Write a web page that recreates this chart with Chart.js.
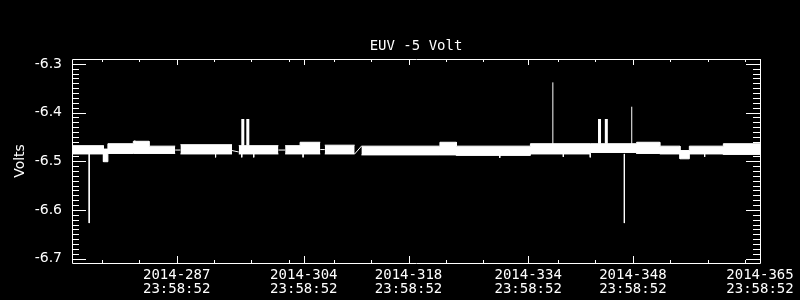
<!DOCTYPE html>
<html>
<head>
<meta charset="utf-8">
<script src="https://cdn.jsdelivr.net/npm/chart.js@4.4.1/dist/chart.umd.min.js"></script>
<style>
  html, body { margin: 0; padding: 0; background: #000; }
  canvas { display: block; }
</style>
</head>
<body>
<canvas id="euv" width="800" height="300"></canvas>
<script>
// Axis ticks (day of year 2014, each label is 23:58:52 of that day)
const xMajorDays = [287, 304, 318, 334, 348, 365];
const xMinorDays = [277, 282, 292, 297, 302, 308, 313, 323, 328, 338, 343, 353, 358, 363];
const xTimeLabel = '23:58:52';
const yTicks = [-6.7, -6.6, -6.5, -6.4, -6.3];

// Main band: blocks of the trace, top and bottom edge of each
const bandStart = [273.0, 277.2, 277.8, 281.2, 283.3, 287.5, 295.3, 301.5, 303.5, 306.8, 311.7, 322.2, 324.4, 334.3, 342.3, 348.5, 351.6, 354.3, 355.55, 360.1];
const bandEnd   = [277.2, 277.8, 281.2, 283.3, 286.8, 294.4, 300.6, 303.5, 306.2, 310.8, 322.2, 324.4, 334.3, 342.3, 348.5, 351.6, 354.3, 355.55, 360.1, 365.0];
const bandHigh  = [-6.468, -6.475, -6.464, -6.459, -6.469, -6.466, -6.468, -6.468, -6.461, -6.467, -6.469, -6.461, -6.469, -6.464, -6.464, -6.461, -6.469, -6.478, -6.469, -6.464];
const bandLow   = [-6.485, -6.501, -6.484, -6.484, -6.484, -6.485, -6.485, -6.485, -6.485, -6.485, -6.487, -6.487, -6.488, -6.485, -6.482, -6.484, -6.485, -6.495, -6.485, -6.486];

// Thin links across data gaps
const linkFrom  = [286.8, 294.4, 300.6, 306.2, 310.8];
const linkTo    = [287.5, 295.3, 301.5, 306.8, 311.7];
const linkFromV = [-6.477, -6.478, -6.477, -6.476, -6.485];
const linkToV   = [-6.477, -6.481, -6.477, -6.476, -6.469];

// Single-sample spikes
const spikeDays = [275.3, 337.3, 346.86, 347.85];
const spikeBase = [-6.485, -6.465, -6.485, -6.465];
const spikePeak = [-6.627, -6.338, -6.627, -6.388];

// Short pulses (a few samples wide)
const pulseDays = [295.84, 296.51, 343.54, 344.45];
const pulseBase = [-6.468, -6.468, -6.464, -6.464];
const pulsePeak = [-6.413, -6.413, -6.413, -6.413];

// Small flickers off the band
const flickDays = [281.4, 292.2, 295.7, 297.3, 303.9, 330.2, 338.7, 342.3, 357.6];
const flickBase = [-6.470, -6.484, -6.484, -6.484, -6.484, -6.486, -6.484, -6.484, -6.484];
const flickTip  = [-6.457, -6.492, -6.492, -6.492, -6.492, -6.493, -6.491, -6.492, -6.491];

function blockPoints(values) {
  const pts = [];
  bandStart.forEach((s, i) => {
    pts.push({x: s, y: values[i]}, {x: bandEnd[i], y: values[i]});
    if (i < bandStart.length - 1 && bandStart[i + 1] > bandEnd[i]) pts.push({x: bandEnd[i], y: null});
  });
  return pts;
}

function linkPoints() {
  const pts = [];
  linkFrom.forEach((s, i) => {
    pts.push({x: s, y: linkFromV[i]}, {x: linkTo[i], y: linkToV[i]}, {x: linkTo[i], y: null});
  });
  return pts;
}

function spikePoints(days, base, peak) {
  const pts = [];
  days.forEach((d, i) => {
    pts.push({x: d, y: base[i]}, {x: d, y: peak[i]}, {x: d, y: null});
  });
  return pts;
}

function traceSet(data, width, extra) {
  return Object.assign({
    data: data,
    borderColor: '#fff',
    backgroundColor: '#fff',
    borderWidth: width,
    pointRadius: 0,
    tension: 0,
    spanGaps: false,
    fill: false
  }, extra || {});
}

// Frame and inward ticks on all four sides
const frameTicks = {
  id: 'frameTicks',
  afterDraw(chart) {
    const {ctx, chartArea: a, scales: {x, y}} = chart;
    const px = v => Math.round(x.getPixelForValue(v)) + 0.5;
    const py = v => Math.round(y.getPixelForValue(v)) + 0.5;
    ctx.save();
    ctx.strokeStyle = '#fff';
    ctx.lineWidth = 1;
    ctx.beginPath();
    ctx.rect(a.left + 0.5, a.top + 0.5, a.right - a.left, a.bottom - a.top);
    const seg = (x0, y0, x1, y1) => { ctx.moveTo(x0, y0); ctx.lineTo(x1, y1); };
    for (let i = 0; i <= 40; i++) {
      const v = -6.7 + i * 0.01;
      const len = i % 10 === 0 ? 14 : 7;
      const yy = py(v);
      seg(a.left, yy, a.left + len, yy);
      seg(a.right, yy, a.right - len, yy);
    }
    xMajorDays.forEach(d => {
      const xx = px(d);
      seg(xx, a.bottom, xx, a.bottom - 7);
      seg(xx, a.top, xx, a.top + 6);
    });
    xMinorDays.forEach(d => {
      const xx = px(d);
      seg(xx, a.bottom, xx, a.bottom - 3);
      seg(xx, a.top, xx, a.top + 3);
    });
    ctx.stroke();
    ctx.restore();
  }
};

new Chart(document.getElementById('euv'), {
  type: 'line',
  data: {
    datasets: [
      traceSet(blockPoints(bandHigh), 1, {fill: '+1'}),
      traceSet(blockPoints(bandLow), 1),
      traceSet(linkPoints(), 1),
      traceSet(spikePoints(spikeDays, spikeBase, spikePeak), 1),
      traceSet(spikePoints(pulseDays, pulseBase, pulsePeak), 3),
      traceSet(spikePoints(flickDays, flickBase, flickTip), 1)
    ]
  },
  options: {
    responsive: false,
    animation: false,
    devicePixelRatio: 1,
    layout: { padding: { left: 0, right: 40, top: 26.2, bottom: 0 } },
    plugins: {
      legend: { display: false },
      tooltip: { enabled: false },
      title: {
        display: true,
        fullSize: false,
        text: 'EUV -5 Volt',
        color: '#fff',
        font: { family: 'DejaVu Sans Mono', size: 14, weight: 'normal', lineHeight: 1.2 },
        padding: { top: 12, bottom: 4 }
      }
    },
    scales: {
      x: {
        type: 'linear',
        min: 273,
        max: 365,
        grid: { display: false, drawTicks: false },
        border: { display: false },
        afterFit: s => { s.height = 37; },
        afterBuildTicks: s => { s.ticks = xMajorDays.map(v => ({value: v})); },
        ticks: {
          color: '#fff',
          autoSkip: false,
          maxRotation: 0,
          padding: 5,
          font: { family: 'DejaVu Sans Mono', size: 14, lineHeight: 1.0 },
          callback: v => ['2014-' + v, xTimeLabel]
        }
      },
      y: {
        min: -6.709,
        max: -6.290,
        grid: { display: false, drawTicks: false },
        border: { display: false },
        afterFit: s => { s.width = 72; },
        afterBuildTicks: s => { s.ticks = yTicks.map(v => ({value: v})); },
        title: {
          display: true,
          text: 'Volts',
          color: '#fff',
          font: { family: 'DejaVu Sans', size: 14, lineHeight: 1.2 },
          padding: { top: 12, bottom: 0 }
        },
        ticks: {
          color: '#fff',
          padding: 10,
          font: { family: 'DejaVu Sans', size: 14 },
          callback: v => v.toFixed(1)
        }
      }
    }
  },
  plugins: [frameTicks]
});
</script>
</body>
</html>
